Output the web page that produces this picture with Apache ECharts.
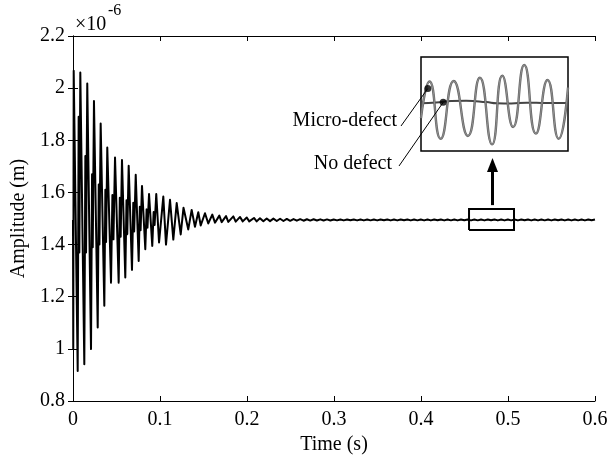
<!DOCTYPE html>
<html>
<head>
<meta charset="utf-8">
<script src="https://cdn.jsdelivr.net/npm/echarts@6/dist/echarts.min.js"></script>
<style>
  html, body { margin: 0; padding: 0; background: #fff; }
  #chart { width: 614px; height: 459px; }
</style>
</head>
<body>
<div id="chart"></div>
<script>
const FONT = '"Liberation Serif", "Times New Roman", serif';

// Axis ticks: time in s, amplitude in units of 1e-6 m
const xTicks = [0, 0.1, 0.2, 0.3, 0.4, 0.5, 0.6];
const yTicks = [0.8, 1, 1.2, 1.4, 1.6, 1.8, 2, 2.2];

// Transient part of the response: turning points (time in s, amplitude x1e-6 m)
const transientTime = [
  0.0000, 0.0003, 0.0008, 0.0054, 0.0065, 0.0073, 0.0084, 0.0130, 0.0142, 0.0150,
  0.0164, 0.0207, 0.0219, 0.0227, 0.0241, 0.0284, 0.0296, 0.0304, 0.0318, 0.0360,
  0.0372, 0.0380, 0.0394, 0.0437, 0.0453, 0.0465, 0.0483, 0.0525, 0.0538, 0.0548,
  0.0563, 0.0601, 0.0615, 0.0624, 0.0640, 0.0678, 0.0693, 0.0703, 0.0721, 0.0755,
  0.0768, 0.0777, 0.0793, 0.0831, 0.0846, 0.0856, 0.0874, 0.0911, 0.0927, 0.0938,
  0.0957, 0.0989, 0.1038, 0.1069, 0.1115, 0.1153, 0.1192, 0.1238, 0.1270, 0.1325,
  0.1364, 0.1402, 0.1440, 0.1468, 0.1517, 0.1555, 0.1601, 0.1632, 0.1682, 0.1709,
  0.1759, 0.1785, 0.1843, 0.1870, 0.1920, 0.1951, 0.1997, 0.2026, 0.2080, 0.2111,
  0.2149
];
const transientAmp = [
  1.494, 1.000, 2.067, 0.915, 1.890, 1.370, 2.060, 0.941, 1.740, 1.370,
  2.018, 0.999, 1.670, 1.390, 1.951, 1.082, 1.630, 1.400, 1.864, 1.165,
  1.610, 1.410, 1.772, 1.254, 1.590, 1.420, 1.734, 1.254, 1.580, 1.430,
  1.724, 1.274, 1.570, 1.440, 1.702, 1.303, 1.560, 1.450, 1.668, 1.337,
  1.545, 1.455, 1.625, 1.382, 1.535, 1.465, 1.594, 1.395, 1.525, 1.475,
  1.594, 1.408, 1.584, 1.400, 1.572, 1.419, 1.559, 1.439, 1.541, 1.458,
  1.533, 1.468, 1.524, 1.473, 1.520, 1.481, 1.515, 1.484, 1.511, 1.486,
  1.509, 1.487, 1.508, 1.488, 1.506, 1.489, 1.504, 1.489, 1.502, 1.489,
  1.501
];

// Residual ripple after the transient, one value per half period
const rippleStart = 0.2188;
const rippleStep = 0.00385;
const rippleAmp = [
  1.4895, 1.5000, 1.4900, 1.4995, 1.4905, 1.4990, 1.4905, 1.4985, 1.4910, 1.4980,
  1.4915, 1.4975, 1.4915, 1.4972, 1.4920, 1.4970, 1.4922, 1.4968, 1.4925, 1.4965,
  1.4926, 1.4964, 1.4928, 1.4963, 1.4928, 1.4962, 1.4930, 1.4960, 1.4928, 1.4962,
  1.4927, 1.4963, 1.4929, 1.4962, 1.4928, 1.4961, 1.4930, 1.4962, 1.4927, 1.4963,
  1.4928, 1.4962, 1.4930, 1.4961, 1.4928, 1.4963, 1.4929, 1.4962, 1.4928, 1.4960,
  1.4927, 1.4962, 1.4930, 1.4963, 1.4928, 1.4961, 1.4929, 1.4962, 1.4928, 1.4963,
  1.4930, 1.4962, 1.4927, 1.4961, 1.4929, 1.4962, 1.4928, 1.4963, 1.4930, 1.4962,
  1.4928, 1.4961, 1.4927, 1.4962, 1.4929, 1.4963, 1.4928, 1.4962, 1.4930, 1.4961,
  1.4928, 1.4962, 1.4927, 1.4963, 1.4929, 1.4962, 1.4928, 1.4961, 1.4930, 1.4962,
  1.4928, 1.4963, 1.4927, 1.4962, 1.4929, 1.4961, 1.4928, 1.4962, 1.4930, 1.4962
];

// Window of the steady-state response that is magnified in the inset
const zoomWindow = { t0: 0.4552, t1: 0.5069, a0: 1.456, a1: 1.536 };

// Inset curves: relative deviation inside the window
const microTime = [0.4552, 0.4582, 0.4621, 0.4667, 0.4717, 0.4759, 0.4802, 0.4838, 0.4876, 0.4915, 0.4956, 0.4997, 0.5036, 0.5069];
const microDev  = [-0.30, 0.48, -0.74, 0.49, -0.68, 0.56, -0.86, 0.60, -0.49, 0.83, -0.63, 0.51, -0.74, 0.35];
const cleanTime = [0.4552, 0.4605, 0.4658, 0.4711, 0.4782, 0.4818, 0.4870, 0.4923, 0.4994, 0.5069];
const cleanDev  = [0.015, 0.030, 0.065, 0.070, 0.040, 0.015, 0.010, 0.028, 0.020, 0.020];

// Callout anchors on the two inset curves
const calloutNames = ['Micro-defect', 'No defect'];
const calloutTime = [0.4576, 0.4630];
const calloutDev  = [0.33, 0.035];

const signal = transientTime.map((t, i) => [t, transientAmp[i]]);
rippleAmp.forEach((a, i) => signal.push([+(rippleStart + i * rippleStep).toFixed(5), a]));

const windowBox = [
  [zoomWindow.t0, zoomWindow.a0], [zoomWindow.t1, zoomWindow.a0],
  [zoomWindow.t1, zoomWindow.a1], [zoomWindow.t0, zoomWindow.a1],
  [zoomWindow.t0, zoomWindow.a0]
];

const chart = echarts.init(document.getElementById('chart'), null, { renderer: 'canvas' });

const frameAxis = {
  type: 'value',
  axisLine: { show: true, lineStyle: { color: '#000', width: 1 } },
  axisTick: { show: true, inside: true, length: 5, lineStyle: { color: '#000', width: 1 } },
  splitLine: { show: false },
  axisLabel: { show: false }
};
const labelStyle = { color: '#000', fontFamily: FONT, fontSize: 20 };

const PLOT = { left: 73, top: 36, right: 19, bottom: 58 };
const INSET = { left: 421, top: 57, width: 147, height: 94 };

const option = {
  animation: false,
  backgroundColor: '#fff',
  grid: [
    { left: PLOT.left, top: PLOT.top, right: PLOT.right, bottom: PLOT.bottom, containLabel: false, outerBoundsMode: 'none' },
    { left: INSET.left, top: INSET.top, width: INSET.width, height: INSET.height, containLabel: false, outerBoundsMode: 'none',
      show: true, borderColor: '#000', borderWidth: 1.5, backgroundColor: '#fff', z: 5 }
  ],
  xAxis: [
    Object.assign({}, frameAxis, {
      gridIndex: 0, position: 'bottom', min: xTicks[0], max: xTicks[xTicks.length - 1], interval: 0.1,
      axisLabel: Object.assign({ show: true, margin: 9, formatter: v => String(+v.toFixed(1)) }, labelStyle),
      name: 'Time (s)', nameLocation: 'middle', nameGap: 31, nameTextStyle: labelStyle
    }),
    Object.assign({}, frameAxis, {
      gridIndex: 0, position: 'top', min: xTicks[0], max: xTicks[xTicks.length - 1], interval: 0.1
    }),
    { type: 'value', gridIndex: 1, min: zoomWindow.t0, max: zoomWindow.t1, show: false }
  ],
  yAxis: [
    Object.assign({}, frameAxis, {
      gridIndex: 0, position: 'left', min: yTicks[0], max: yTicks[yTicks.length - 1], interval: 0.2,
      axisLabel: Object.assign({ show: true, margin: 8, formatter: v => String(+v.toFixed(1)) }, labelStyle),
      name: 'Amplitude (m)', nameLocation: 'middle', nameGap: 35, nameTextStyle: labelStyle
    }),
    Object.assign({}, frameAxis, {
      gridIndex: 0, position: 'right', min: yTicks[0], max: yTicks[yTicks.length - 1], interval: 0.2
    }),
    { type: 'value', gridIndex: 1, min: -1, max: 1, show: false }
  ],
  series: [
    {
      type: 'line', xAxisIndex: 0, yAxisIndex: 0, data: signal,
      symbol: 'none', sampling: null, clip: true,
      lineStyle: { color: '#000', width: 2, join: 'round' }
    },
    {
      type: 'line', xAxisIndex: 0, yAxisIndex: 0, data: windowBox,
      symbol: 'none', lineStyle: { color: '#000', width: 2, join: 'miter' }, z: 4
    },
    {
      type: 'line', xAxisIndex: 2, yAxisIndex: 2, z: 6,
      data: cleanTime.map((t, i) => [t, cleanDev[i]]),
      symbol: 'none', smooth: 0.5, lineStyle: { color: '#444', width: 2 }
    },
    {
      type: 'line', xAxisIndex: 2, yAxisIndex: 2, z: 7,
      data: microTime.map((t, i) => [t, microDev[i]]),
      symbol: 'none', smooth: 0.55, lineStyle: { color: '#666', width: 2.4 }
    },
    {
      type: 'line', xAxisIndex: 2, yAxisIndex: 2, z: 8,
      data: microTime.map((t, i) => [t, microDev[i]]),
      symbol: 'none', smooth: 0.55, lineStyle: { color: '#9a9a9a', width: 0.8 }
    },
    {
      type: 'scatter', xAxisIndex: 2, yAxisIndex: 2, z: 10,
      data: calloutTime.map((t, i) => [t, calloutDev[i]]),
      symbol: 'circle', symbolSize: 7, itemStyle: { color: '#000' }
    }
  ]
};

chart.setOption(option);

// Annotations: exponent, callout texts with leader lines, arrow to the inset
const dots = calloutTime.map((t, i) => chart.convertToPixel({ gridIndex: 1 }, [t, calloutDev[i]]));
const boxTop = chart.convertToPixel({ gridIndex: 0 }, [(zoomWindow.t0 + zoomWindow.t1) / 2, zoomWindow.a1]);
const insetBottom = INSET.top + INSET.height;
const ax = Math.round(boxTop[0]) + 0.5;
const tipY = insetBottom + 7;
const headLen = 14, headHalf = 5.5;

const textLabels = [
  { x: 397, y: 121, lineFrom: [401, 126] },
  { x: 392, y: 164, lineFrom: [399, 166] }
];

const graphics = [
  { type: 'text', x: 75, y: 25, style: { text: '\u00d710', font: '20px ' + FONT, fill: '#000', verticalAlign: 'middle' } },
  { type: 'text', x: 108, y: 11, style: { text: '-6', font: '16px ' + FONT, fill: '#000', verticalAlign: 'middle' } },
  { type: 'line', shape: { x1: ax, y1: boxTop[1] - 4, x2: ax, y2: tipY + headLen - 1 }, style: { stroke: '#000', lineWidth: 3 } },
  { type: 'polygon', shape: { points: [[ax, tipY], [ax - headHalf, tipY + headLen], [ax + headHalf, tipY + headLen]] }, style: { fill: '#000' } }
];
textLabels.forEach((lab, i) => {
  graphics.push({ type: 'text', x: lab.x, y: lab.y, style: { text: calloutNames[i], font: '20px ' + FONT, fill: '#000', align: 'right', verticalAlign: 'middle' } });
  graphics.push({ type: 'line', z: 20, shape: { x1: lab.lineFrom[0], y1: lab.lineFrom[1], x2: dots[i][0], y2: dots[i][1] }, style: { stroke: '#000', lineWidth: 1 } });
});
chart.setOption({ graphic: graphics });
</script>
</body>
</html>
